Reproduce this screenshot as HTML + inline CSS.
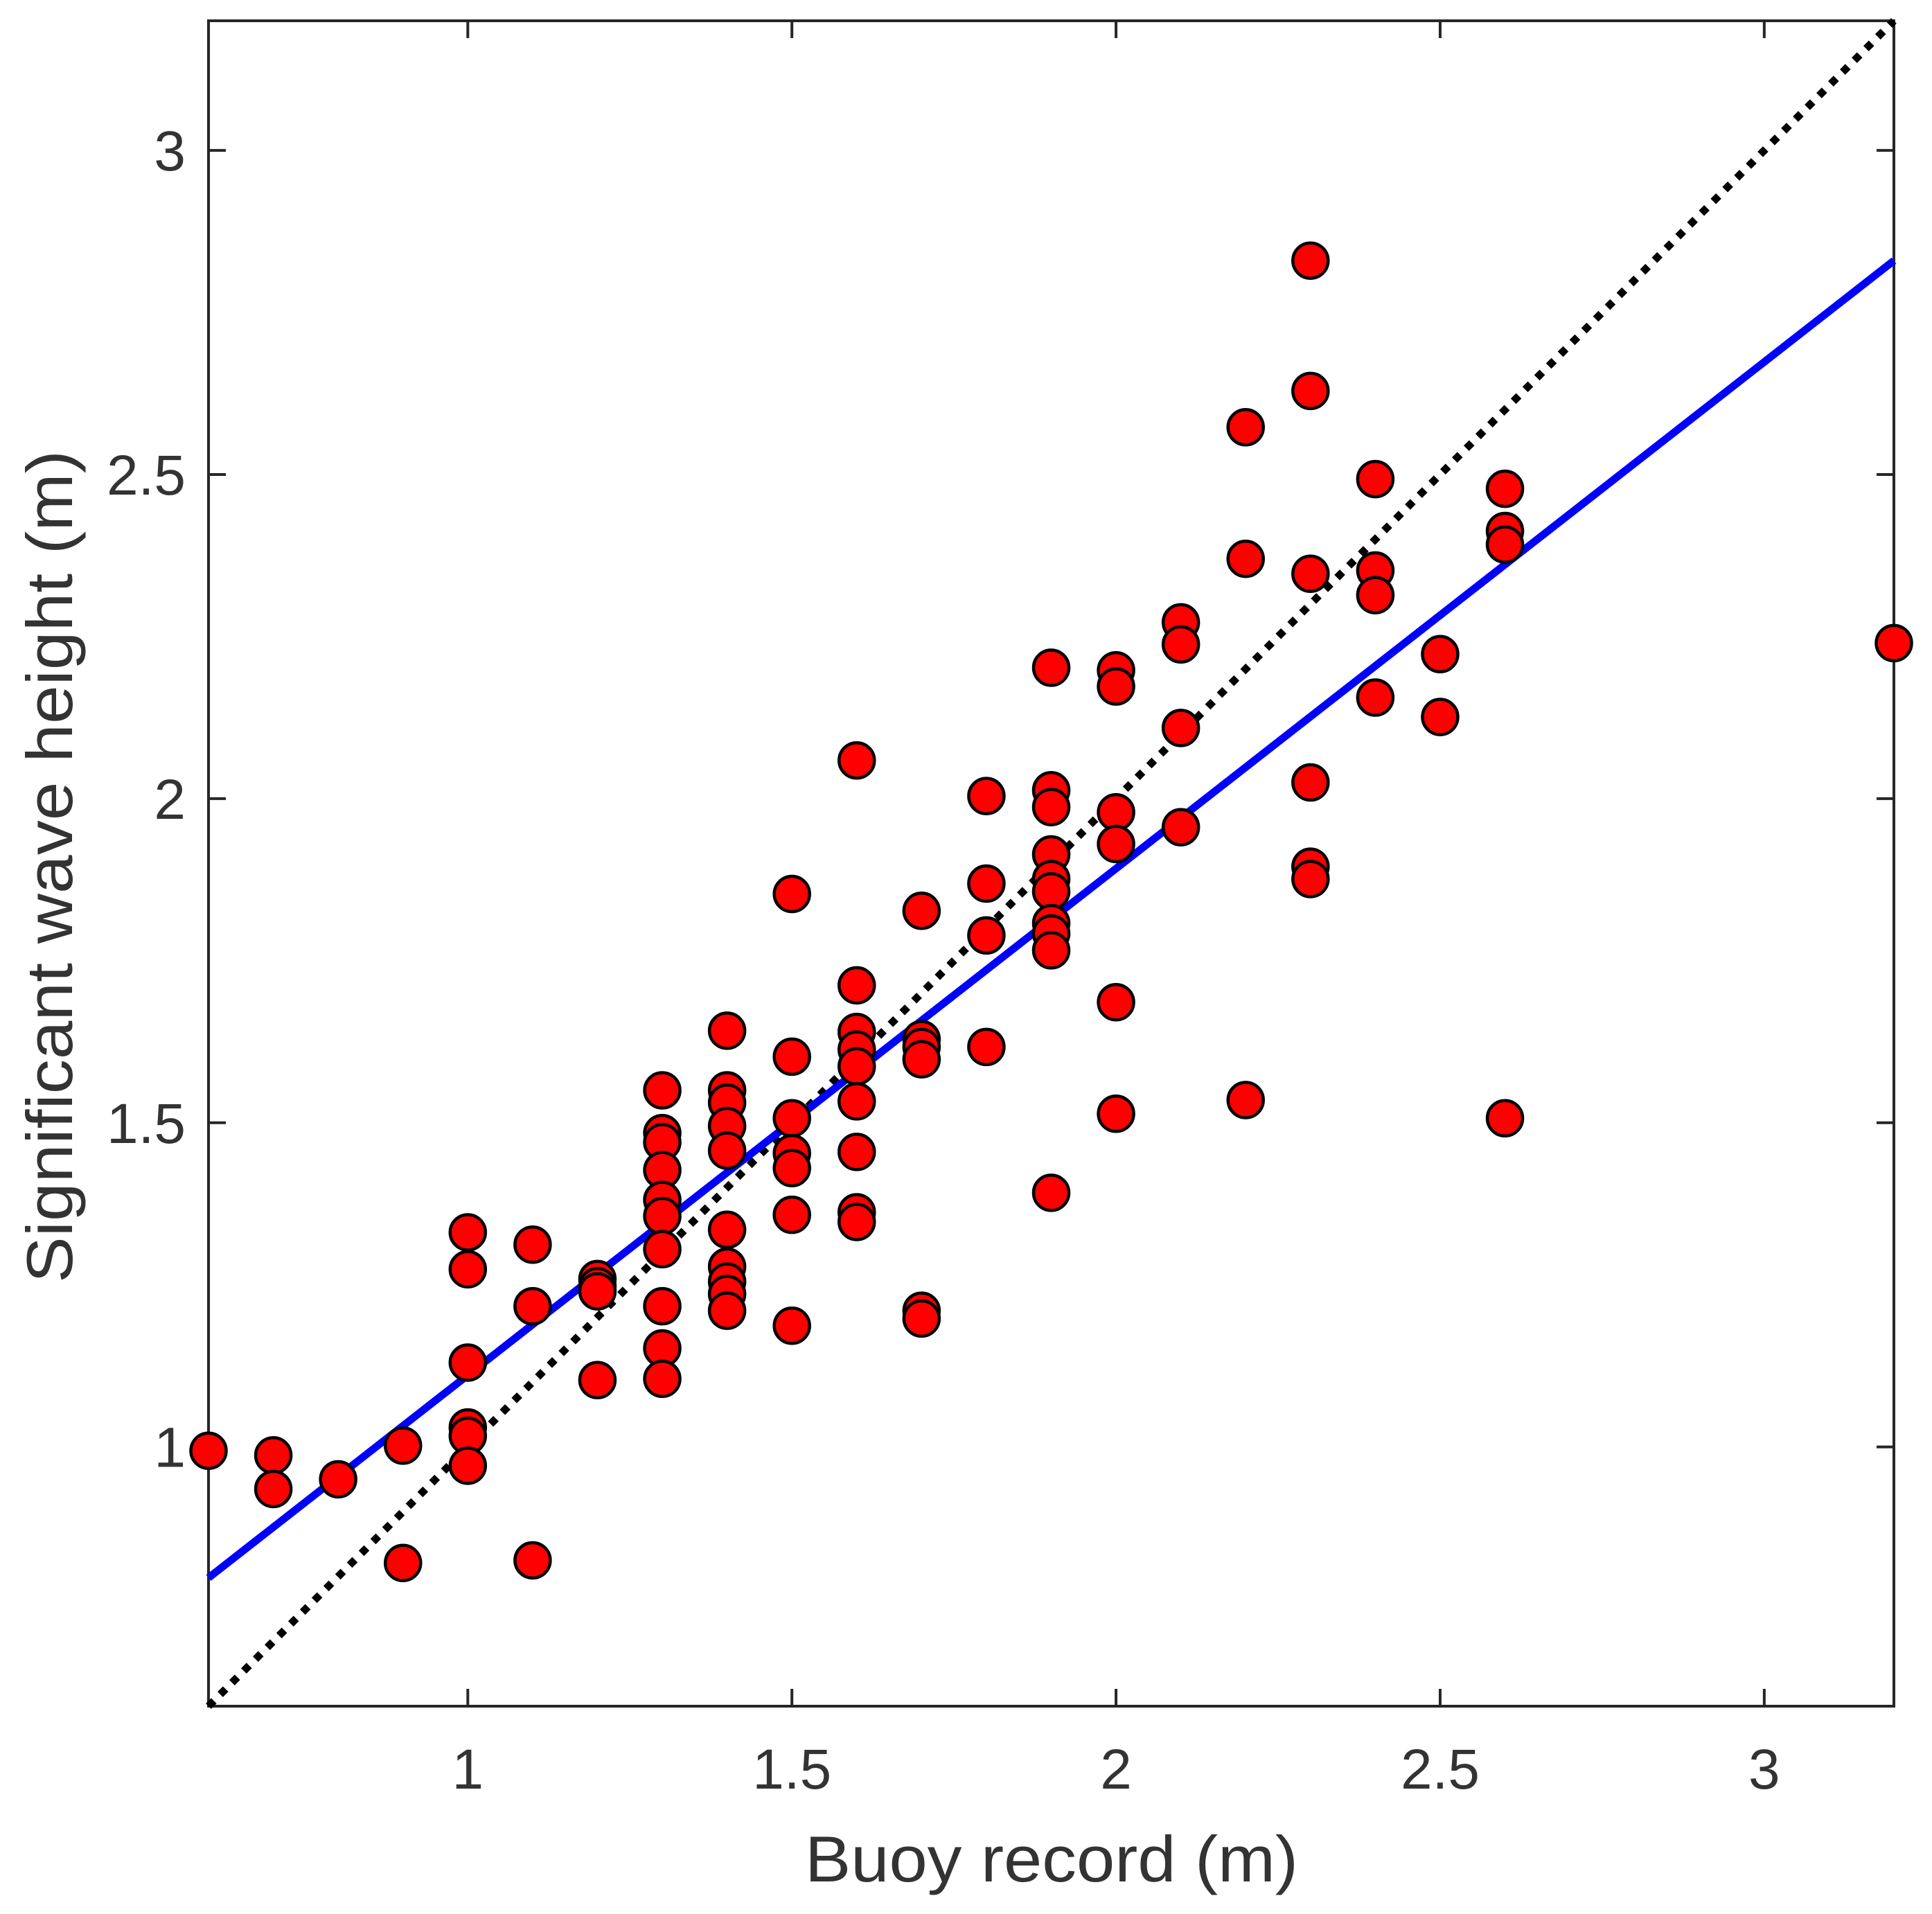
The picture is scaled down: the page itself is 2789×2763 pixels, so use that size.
<!DOCTYPE html>
<html><head><meta charset="utf-8"><style>
html,body{margin:0;padding:0;background:#fff}
svg{display:block}
text{font-family:"Liberation Sans",Arial,sans-serif;fill:#333}
</style></head><body>
<svg id="chart" width="2789" height="2763" viewBox="0 0 2789 2763" xmlns="http://www.w3.org/2000/svg">
<g id="plot"></g>
<text x="1518" y="2716" font-size="94" text-anchor="middle" textLength="712" lengthAdjust="spacingAndGlyphs">Buoy record (m)</text>
<text transform="translate(104,1251) rotate(-90)" font-size="94" text-anchor="middle" textLength="1202" lengthAdjust="spacingAndGlyphs">Significant wave height (m)</text>
</svg>
<script>
const xTicks=[1,1.5,2,2.5,3];
const yTicks=[1,1.5,2,2.5,3];
const xTickLabels=["1","1.5","2","2.5","3"];
const yTickLabels=["1","1.5","2","2.5","3"];
const buoyX=[0.6,0.7,0.7,0.8,0.9,0.9,
1.0,1.0,1.0,1.0,1.0,1.0,
1.1,1.1,1.1,
1.2,1.2,1.2,1.2,
1.3,1.3,1.3,1.3,1.3,1.3,1.3,1.3,1.3,1.3,
1.4,1.4,1.4,1.4,1.4,1.4,1.4,1.4,1.4,1.4,
1.5,1.5,1.5,1.5,1.5,1.5,1.5,
1.6,1.6,1.6,1.6,1.6,1.6,1.6,1.6,1.6,
1.7,1.7,1.7,1.7,1.7,1.7,
1.8,1.8,1.8,1.8,
1.9,1.9,1.9,1.9,1.9,1.9,1.9,1.9,1.9,1.9,
2.0,2.0,2.0,2.0,2.0,2.0,
2.1,2.1,2.1,2.1,
2.2,2.2,2.2,
2.3,2.3,2.3,2.3,2.3,2.3,
2.4,2.4,2.4,2.4,
2.5,2.5,
2.6,2.6,2.6,2.6,
3.2];
const modelY=[0.994,0.987,0.935,0.950,1.002,0.821,
1.331,1.274,1.130,1.030,1.017,0.971,
1.312,1.217,0.825,
1.259,1.248,1.240,1.103,
1.550,1.484,1.470,1.427,1.381,1.356,1.305,1.217,1.152,1.105,
1.642,1.550,1.531,1.495,1.457,1.335,1.278,1.255,1.236,1.210,
1.853,1.602,1.507,1.453,1.430,1.358,1.187,
2.059,1.712,1.640,1.613,1.587,1.533,1.455,1.362,1.347,
1.827,1.629,1.617,1.598,1.210,1.198,
2.004,1.869,1.789,1.617,
2.202,2.013,1.987,1.914,1.876,1.857,1.808,1.792,1.766,1.392,
2.198,2.173,1.979,1.930,1.686,1.514,
2.272,2.238,2.109,1.956,
2.573,2.370,1.535,
2.830,2.629,2.347,2.025,1.895,1.876,
2.493,2.352,2.314,2.156,
2.223,2.126,
2.478,2.413,2.392,1.507,
2.240];
const fitX=[0.6,3.2];
const fitY=[0.798,2.83];
const refX=[0.6,3.2];
const refY=[0.6,3.2];

const L=301,R=2734,T=30,B=2463,xmin=0.6,xmax=3.2,ymin=0.6,ymax=3.2;
function sx(v){return L+(v-xmin)/(xmax-xmin)*(R-L);}
function sy(v){return B-(v-ymin)/(ymax-ymin)*(B-T);}
const NS="http://www.w3.org/2000/svg";
const g=document.getElementById('plot');
function mk(t,a,parent){const e=document.createElementNS(NS,t);for(const k in a)e.setAttribute(k,a[k]);(parent||g).appendChild(e);return e;}

let box=mk('rect',{x:L,y:T,width:R-L,height:B-T,fill:'none',stroke:'#262626','stroke-width':4});


xTicks.forEach((v,i)=>{
  const x=sx(v);
  let t1=mk('line',{x1:x,y1:B,x2:x,y2:B-25,stroke:'#262626','stroke-width':4});
  
  
  let t2=mk('line',{x1:x,y1:T,x2:x,y2:T+25,stroke:'#262626','stroke-width':4});
  
  
  let tx=mk('text',{x:x,y:2582,'font-size':82,'text-anchor':'middle'});
  tx.textContent=xTickLabels[i];
  
  
});
yTicks.forEach((v,i)=>{
  const y=sy(v);
  let t1=mk('line',{x1:L,y1:y,x2:L+25,y2:y,stroke:'#262626','stroke-width':4});
  
  
  let t2=mk('line',{x1:R,y1:y,x2:R-25,y2:y,stroke:'#262626','stroke-width':4});
  
  
  let tx=mk('text',{x:268,y:y+29,'font-size':82,'text-anchor':'end'});
  tx.textContent=yTickLabels[i];
  
  
});
let ref=mk('line',{x1:sx(refX[0]),y1:sy(refY[0]),x2:sx(refX[1]),y2:sy(refY[1]),stroke:'#000','stroke-width':11,'stroke-dasharray':'11 13'});


let fit=mk('line',{x1:sx(fitX[0]),y1:sy(fitY[0]),x2:sx(fitX[1]),y2:sy(fitY[1]),stroke:'#0000ff','stroke-width':11});


buoyX.forEach((v,i)=>{
  let c=mk('circle',{cx:sx(v),cy:sy(modelY[i]),r:25.5,fill:'#ff0000',stroke:'#000','stroke-width':4.5});
  
  
});
</script>
</body></html>
